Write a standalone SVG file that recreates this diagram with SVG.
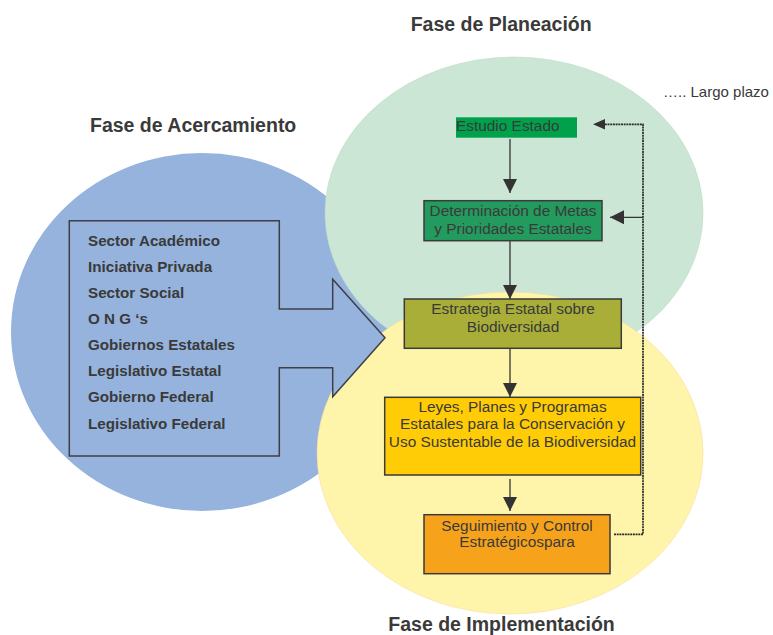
<svg xmlns="http://www.w3.org/2000/svg" width="773" height="635" viewBox="0 0 773 635">
<style>
text{font-family:"Liberation Sans",Arial,sans-serif;fill:#3a3a3a}
.title{font-size:19.5px;font-weight:bold}
.lbl{font-size:15.2px;font-weight:bold}
.bx{font-size:15.4px;text-anchor:middle}
.box{stroke:#3a3a3a;stroke-width:1.5}
.conn{fill:none;stroke:#333;stroke-width:1.3}
.dot{fill:none;stroke:#2a2a2a;stroke-width:1.7;stroke-dasharray:2 0.7}
</style>
<defs>
<marker id="ah" markerUnits="userSpaceOnUse" markerWidth="14" markerHeight="14" viewBox="0 0 12 12" refX="12" refY="6" orient="auto">
<path d="M0,0 L12,6 L0,12 Z" fill="#333"/>
</marker>
</defs>
<rect width="773" height="635" fill="#fff"/>
<g id="phases">
<ellipse id="acercamiento" cx="202" cy="332" rx="191" ry="179" fill="#95b3dc"/>
<ellipse id="planeacion" cx="514" cy="213" rx="189" ry="156" fill="#cce6d5" stroke="#bcdcc8" stroke-width="0.6"/>
<ellipse id="implementacion" cx="510" cy="453" rx="193" ry="161" fill="#fff5aa" stroke="#f8dca0" stroke-width="0.6"/>
</g>
<g id="actores">
<path d="M69.3,220.7 H279.3 V309 H332.7 V279.3 L385,337.7 L332.7,396.7 V367.7 H279.3 V456 H69.3 Z" fill="#95b3dc" stroke="#3f3f46" stroke-width="1.5"/>
<text class="lbl" x="88" y="246">Sector Académico</text>
<text class="lbl" x="88" y="272">Iniciativa Privada</text>
<text class="lbl" x="88" y="298">Sector Social</text>
<text class="lbl" x="88" y="324">O N G ‘s</text>
<text class="lbl" x="88" y="350">Gobiernos Estatales</text>
<text class="lbl" x="88" y="376">Legislativo Estatal</text>
<text class="lbl" x="88" y="402">Gobierno Federal</text>
<text class="lbl" x="88" y="429">Legislativo Federal</text>
</g>
<g id="connectors">
<line class="conn" x1="510" y1="139" x2="510" y2="193" marker-end="url(#ah)"/>
<line class="conn" x1="510" y1="241" x2="510" y2="299" marker-end="url(#ah)"/>
<line class="conn" x1="510" y1="349" x2="510" y2="397" marker-end="url(#ah)"/>
<line class="conn" x1="510" y1="479" x2="510" y2="511" marker-end="url(#ah)"/>
<path class="dot" d="M614,534.3 H643 V124.3 H605"/>
<path d="M605,119 L593,124.3 L605,129.6 Z" fill="#333"/>
<line class="conn" x1="643" y1="217.3" x2="610" y2="217.3" marker-end="url(#ah)"/>
</g>
<g id="estudio">
<rect x="456" y="117.3" width="121" height="20.4" fill="#00a14b"/>
<text x="456" y="131" style="font-size:15.4px">Estudio Estado</text>
</g>
<g id="metas">
<rect class="box" x="424" y="200.7" width="178" height="40" fill="#249b5e"/>
<text class="bx" x="513" y="216">Determinación de Metas</text>
<text class="bx" x="513" y="234">y Prioridades Estatales</text>
</g>
<g id="estrategia">
<rect class="box" x="404.3" y="299" width="217" height="49.3" fill="#a8ae38"/>
<text class="bx" x="513" y="314">Estrategia Estatal sobre</text>
<text class="bx" x="513" y="331.5">Biodiversidad</text>
</g>
<g id="leyes">
<rect class="box" x="384.7" y="397.3" width="256" height="77.7" fill="#ffcc05"/>
<text class="bx" x="512.5" y="411.7">Leyes, Planes y Programas</text>
<text class="bx" x="512.5" y="429.3">Estatales para la Conservación y</text>
<text class="bx" x="512.5" y="447">Uso Sustentable de la Biodiversidad</text>
</g>
<g id="seguimiento">
<rect class="box" x="424" y="514.7" width="186" height="59" fill="#f7a21b"/>
<text class="bx" x="517" y="530.5">Seguimiento y Control</text>
<text class="bx" x="517" y="547.3">Estratégicospara</text>
</g>
<g id="titles">
<text class="title" x="410.7" y="31">Fase de Planeación</text>
<text class="title" x="90" y="131.7">Fase de Acercamiento</text>
<text class="title" x="388.3" y="631">Fase de Implementación</text>
<text x="663" y="96.7" style="font-size:15px">….. Largo plazo</text>
</g>
</svg>
